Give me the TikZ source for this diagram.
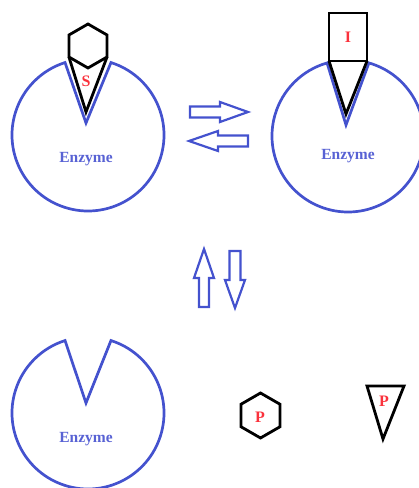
\documentclass[tikz,border=0pt]{standalone}
\usepackage{fontspec}
\setmainfont{Liberation Serif}
\usetikzlibrary{calc}
\definecolor{enzblue}{RGB}{68,82,206}
\definecolor{txtblue}{RGB}{88,98,212}
\definecolor{letred}{RGB}{250,50,60}
\tikzset{
  enz/.style={draw=enzblue,line width=2.7pt},
  blk/.style={draw=black,line width=2.8pt},
  arr/.style={draw=enzblue,line width=2.2pt,line join=miter},
  enzlabel/.style={text=txtblue,font=\fontsize{15.5}{16}\selectfont\bfseries,inner sep=0pt},
  letlabel/.style={text=letred,font=\fontsize{16}{16}\selectfont\bfseries,inner sep=0pt}
}
\begin{document}
\begin{tikzpicture}[x=1pt,y=1pt]
\useasboundingbox (0,0) rectangle (419,488);
\clip (0,0) rectangle (419,488);
% ---- top-left enzyme with substrate
\coordinate (c1) at (88,353);
\draw[enz] ($(c1)+(72.4:76)$) arc[start angle=72.4,end angle=-252.4,radius=76] -- (86,365) -- cycle;
\coordinate (h1) at (88,442);
\draw[blk] ($(h1)+(90:22)$) -- ($(h1)+(150:22)$) -- ($(h1)+(210:22)$) -- ($(h1)+(270:22)$) -- ($(h1)+(330:22)$) -- ($(h1)+(30:22)$) -- cycle;
\draw[blk] ($(h1)+(210:22)$) -- (86,376) -- ($(h1)+(330:22)$);
\node[letlabel] (s) at (86,407) {S};
\node[enzlabel] (e1) at (86,329) {Enzyme};
% ---- top-right enzyme with inhibitor
\coordinate (c2) at (348,352);
\draw[enz] ($(c2)+(74:76)$) arc[start angle=74,end angle=-254,radius=76] -- (346,363) -- cycle;
\draw[blk] (329,427) rectangle (367,475);
\draw[blk] (329,427) -- (346,374) -- (367,427);
\node[letlabel] (i) at (348,451) {I};
\node[enzlabel] (e2) at (348,332) {Enzyme};
% ---- bottom enzyme
\coordinate (c3) at (88,75);
\draw[enz] ($(c3)+(72.4:76)$) arc[start angle=72.4,end angle=-252.4,radius=76] -- (86,85) -- cycle;
\node[enzlabel] (e3) at (86,49) {Enzyme};
% ---- products
\coordinate (h2) at (260.5,72.5);
\draw[blk] ($(h2)+(90:22.5)$) -- ($(h2)+(150:22.5)$) -- ($(h2)+(210:22.5)$) -- ($(h2)+(270:22.5)$) -- ($(h2)+(330:22.5)$) -- ($(h2)+(30:22.5)$) -- cycle;
\node[letlabel] (p1) at (260,71) {P};
\draw[blk] (367,102) -- (404,102) -- (383,49) -- cycle;
\node[letlabel] (p2) at (384,87) {P};
% ---- equilibrium arrows
\draw[arr] (190,370.5) -- (220,370.5) -- (220,366) -- (248,376) -- (220,386) -- (220,381.5) -- (190,381.5) -- cycle;
\draw[arr] (248,341.5) -- (218,341.5) -- (218,337) -- (189,347) -- (218,357) -- (218,352.5) -- (248,352.5) -- cycle;
\draw[arr] (199,181) -- (199,210) -- (194,210) -- (204,239) -- (214,210) -- (209,210) -- (209,181) -- cycle;
\draw[arr] (229.5,237) -- (229.5,208) -- (225,208) -- (235,180) -- (245,208) -- (240.5,208) -- (240.5,237) -- cycle;
\end{tikzpicture}
\end{document}
